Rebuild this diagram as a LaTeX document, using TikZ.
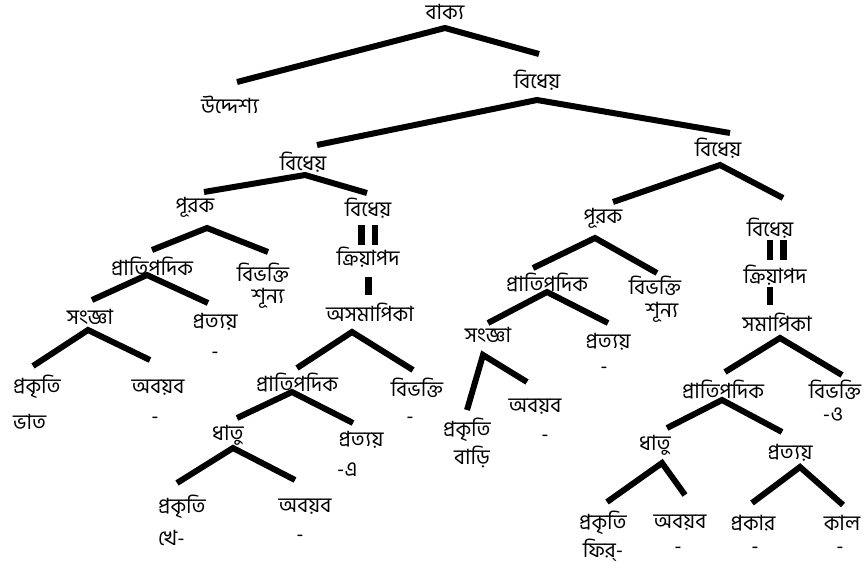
\documentclass[tikz,border=0pt]{standalone}
\usepackage{fontspec}
\newfontfamily\bn[Script=Bengali]{Hind Siliguri}
\begin{document}
\begin{tikzpicture}[x=1pt,y=-1pt,
  lbl/.style={font=\bn\fontsize{21}{23}\selectfont, inner sep=0pt, anchor=center},
  branch/.style={line width=6pt, line join=miter},
  bar/.style={line width=6.5pt}]
\useasboundingbox[fill=white] (0,0) rectangle (866,578);

% ---- labels ----
\node[lbl] (vakya) at (445,12) {বাক্য};
\node[lbl] (uddeshya) at (230,105) {উদ্দেশ্য};
\node[lbl] (bidA) at (537,80) {বিধেয়};
\node[lbl] (bidB) at (303,162) {বিধেয়};
\node[lbl] (bidC) at (718,148) {বিধেয়};
% left subtree
\node[lbl] (purakL) at (195,207) {পূরক};
\node[lbl] (bidL) at (368,208) {বিধেয়};
\node[lbl] (kriyaL) at (368,257) {ক্রিয়াপদ};
\node[lbl] (asam) at (370,312) {অসমাপিকা};
\node[lbl] (pratipL) at (152,267) {প্রাতিপদিক};
\node[lbl] (bibhL) at (263,273) {বিভক্তি};
\node[lbl] (shunL) at (268,298) {শূন্য};
\node[lbl] (sangL) at (90,317) {সংজ্ঞা};
\node[lbl] (pratyL) at (215,322) {প্রত্যয়};
\node[lbl] (pratyLv) at (215,355) {-};
\node[lbl,anchor=west] (prakL) at (13,387) {প্রকৃতি};
\node[lbl,anchor=west] (bhat) at (13,422) {ভাত};
\node[lbl] (abaL) at (158,388) {অবয়ব};
\node[lbl] (abaLv) at (155,420) {-};
\node[lbl] (pratipM) at (297,383) {প্রাতিপদিক};
\node[lbl] (bibhM) at (417,388) {বিভক্তি};
\node[lbl] (bibhMv) at (410,420) {-};
\node[lbl] (dhatuM) at (228,435) {ধাতু};
\node[lbl] (pratyM) at (361,440) {প্রত্যয়};
\node[lbl,anchor=west] (pratyMv) at (337,470) {-এ};
\node[lbl,anchor=west] (prakM) at (158,507) {প্রকৃতি};
\node[lbl,anchor=west] (khe) at (158,538) {খে-};
\node[lbl] (abaM) at (305,507) {অবয়ব};
\node[lbl] (abaMv) at (300,538) {-};
% right subtree
\node[lbl] (purakR) at (603,218) {পূরক};
\node[lbl] (bidR) at (770,228) {বিধেয়};
\node[lbl] (kriyaR) at (775,275) {ক্রিয়াপদ};
\node[lbl] (samap) at (777,322) {সমাপিকা};
\node[lbl] (pratipR) at (547,283) {প্রাতিপদিক};
\node[lbl] (bibhR) at (655,286) {বিভক্তি};
\node[lbl] (shunR) at (662,312) {শূন্য};
\node[lbl] (sangR) at (488,335) {সংজ্ঞা};
\node[lbl] (pratyR) at (608,342) {প্রত্যয়};
\node[lbl] (pratyRv) at (604,370) {-};
\node[lbl] (prakR) at (467,430) {প্রকৃতি};
\node[lbl] (bari) at (472,457) {বাড়ি};
\node[lbl] (abaR) at (535,407) {অবয়ব};
\node[lbl] (abaRv) at (545,438) {-};
\node[lbl] (pratipS) at (723,390) {প্রাতিপদিক};
\node[lbl] (bibhS) at (835,390) {বিভক্তি};
\node[lbl] (bibhSv) at (833,415) {-ও};
\node[lbl] (dhatuS) at (655,445) {ধাতু};
\node[lbl] (pratyS) at (790,453) {প্রত্যয়};
\node[lbl] (prakS) at (603,523) {প্রকৃতি};
\node[lbl] (phir) at (603,550) {ফির্-};
\node[lbl] (abaS) at (680,523) {অবয়ব};
\node[lbl] (abaSv) at (678,550) {-};
\node[lbl] (prakar) at (753,523) {প্রকার};
\node[lbl] (prakarv) at (755,550) {-};
\node[lbl] (kal) at (842,523) {কাল};
\node[lbl] (kalv) at (840,550) {-};

% ---- branch points: apex under the parent, two ends above the children ----
\coordinate (a1) at (445,28);  \coordinate (l1) at (237,82);  \coordinate (r1) at (539,54);
\coordinate (a2) at (537,100); \coordinate (l2) at (317,145); \coordinate (r2) at (730,133);
\coordinate (a3) at (305,175); \coordinate (l3) at (204,192); \coordinate (r3) at (367,193);
\coordinate (a4) at (720,165); \coordinate (l4) at (613,202); \coordinate (r4) at (783,198);
\coordinate (a5) at (207,228); \coordinate (l5) at (152,250); \coordinate (r5) at (268,252);
\coordinate (a6) at (147,275); \coordinate (l6) at (92,300);  \coordinate (r6) at (208,303);
\coordinate (a7) at (88,330);  \coordinate (l7) at (33,366);  \coordinate (r7) at (150,360);
\coordinate (a8) at (352,332); \coordinate (l8) at (297,368); \coordinate (r8) at (413,370);
\coordinate (a9) at (292,392); \coordinate (l9) at (237,418); \coordinate (r9) at (353,423);
\coordinate (a10) at (233,448); \coordinate (l10) at (177,483); \coordinate (r10) at (295,480);
\coordinate (a11) at (595,238); \coordinate (l11) at (533,268); \coordinate (r11) at (657,273);
\coordinate (a12) at (547,292); \coordinate (l12) at (488,323); \coordinate (r12) at (608,323);
\coordinate (a13) at (483,355); \coordinate (l13) at (467,410); \coordinate (r13) at (527,382);
\coordinate (a14) at (780,338); \coordinate (l14) at (725,372); \coordinate (r14) at (842,375);
\coordinate (a15) at (722,400); \coordinate (l15) at (667,428); \coordinate (r15) at (782,432);
\coordinate (a16) at (662,463); \coordinate (l16) at (607,502); \coordinate (r16) at (685,495);
\coordinate (a17) at (800,467); \coordinate (l17) at (752,503); \coordinate (r17) at (843,505);

\foreach \i in {1,...,17}
  \draw[branch] (l\i) -- (a\i) -- (r\i);

% ---- equality and link bars ----
\coordinate (qL1t) at (361.5,225); \coordinate (qL1b) at (361.5,245);
\coordinate (qL2t) at (375,225);   \coordinate (qL2b) at (375,245);
\coordinate (sLt) at (368.5,277);  \coordinate (sLb) at (368.5,295);
\coordinate (qR1t) at (770,240);   \coordinate (qR1b) at (770,260);
\coordinate (qR2t) at (783.5,240); \coordinate (qR2b) at (783.5,260);
\coordinate (sRt) at (770,287);    \coordinate (sRb) at (770,305);
\draw[bar] (qL1t) -- (qL1b);
\draw[bar] (qL2t) -- (qL2b);
\draw[bar] (sLt) -- (sLb);
\draw[bar] (qR1t) -- (qR1b);
\draw[bar] (qR2t) -- (qR2b);
\draw[bar] (sRt) -- (sRb);
\end{tikzpicture}
\end{document}
